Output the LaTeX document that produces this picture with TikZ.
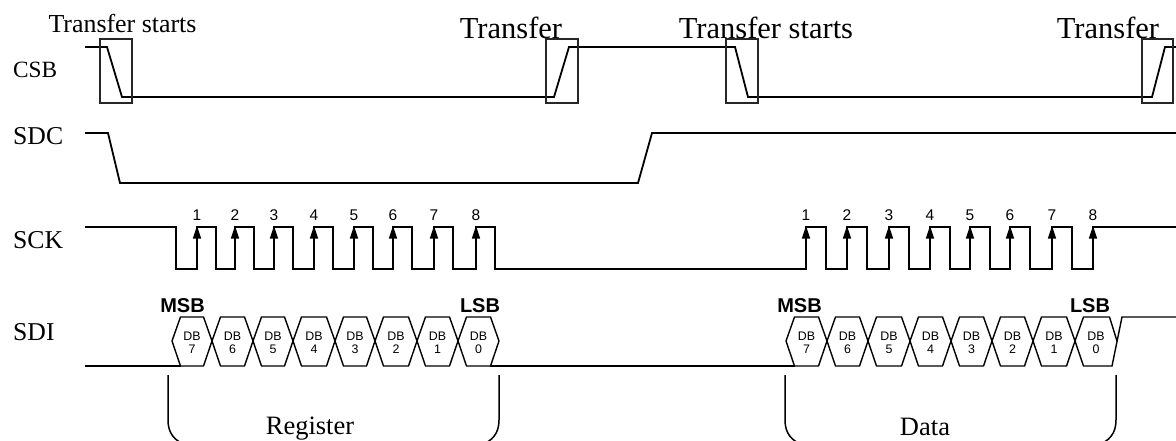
\documentclass[tikz,border=0pt]{standalone}
\usepackage{fontspec}
\setmainfont{Liberation Serif}
\newfontfamily\arialf{Liberation Sans}
\begin{document}
\begin{tikzpicture}[x=1pt,y=-1pt,
  wave/.style={line width=1.8pt, line join=miter, line cap=butt},
  hexw/.style={line width=1.4pt, line join=miter},
  boxw/.style={line width=1.3pt, draw=black!85},
  brk/.style={line width=1.5pt},
  siglabel/.style={anchor=base west, inner sep=0pt, font=\fontsize{25.7}{30}\selectfont},
  bigtxt/.style={anchor=base, inner sep=0pt, font=\fontsize{30.5}{36}\selectfont},
  smalltxt/.style={anchor=base, inner sep=0pt, font=\fontsize{25.9}{30}\selectfont},
  brtxt/.style={anchor=base, inner sep=0pt, font=\fontsize{26.5}{30}\selectfont},
  num/.style={anchor=base, inner sep=0pt, font=\arialf\fontsize{15.5}{17}\selectfont},
  dbt/.style={anchor=base, inner sep=0pt, font=\arialf\fontsize{12.4}{14}\selectfont},
  msb/.style={anchor=base, inner sep=0pt, font=\arialf\bfseries\fontsize{20}{22}\selectfont}]
\path[use as bounding box] (0,0) rectangle (1176,441);
\clip (0,0) rectangle (1176,441);

% signal labels
\node[siglabel, font=\fontsize{23.3}{28}\selectfont] (lcsb) at (13,78) {CSB};
\node[siglabel] (lsdc) at (13,145) {SDC};
\node[siglabel] (lsck) at (13,248) {SCK};
\node[siglabel] (lsdi) at (13,340) {SDI};

% transfer texts
\node[smalltxt] (t1) at (122.5,33) {Transfer starts};
\node[bigtxt] (t2) at (511,39) {Transfer};
\node[bigtxt] (t3) at (766,39) {Transfer starts};
\node[bigtxt] (t4) at (1108,39) {Transfer};

% CSB
\draw[wave] (85,47) -- (107,47) -- (122,97) -- (554,97) -- (569,47) -- (735,47) -- (748,97) -- (1152,97) -- (1165,47) -- (1176,47);
\draw[boxw] (100,39) rectangle (132,103);
\draw[boxw] (546,39) rectangle (578,103);
\draw[boxw] (726,39) rectangle (758,103);
\draw[boxw] (1142,39) rectangle (1173,103);

% SDC
\draw[wave] (85,133) -- (108,133) -- (120,183) -- (638,183) -- (652,133) -- (1176,133);

% SCK
\draw[wave] (85,227) -- (176,227) -- (176,269)
  foreach \a in {197,235,274,314,354,393,434,476}{ -- (\a,269) -- (\a,227) -- (\a+19,227) -- (\a+19,269) }
  foreach \a in {806,847,889,930,970,1010,1052}{ -- (\a,269) -- (\a,227) -- (\a+20,227) -- (\a+20,269) }
  -- (1093,269) -- (1093,227) -- (1176,227);
\foreach \a [count=\i] in {197,235,274,314,354,393,434,476}{
  \fill (\a,226) -- ++(-4.2,12.5) -- ++(8.4,0) -- cycle;
  \node[num] (na\i) at (\a,221) {\i};
}
\foreach \a [count=\i] in {806,847,889,930,970,1010,1052,1093}{
  \fill (\a,226) -- ++(-4.2,12.5) -- ++(8.4,0) -- cycle;
  \node[num] (nb\i) at (\a,221) {\i};
}

% SDI
\draw[wave] (85,366) -- (181,366);
\draw[wave] (490,366) -- (795,366);
\foreach \l/\r/\d in {172/212/7,212/253/6,253/293/5,293/335/4,335/375/3,375/417/2,417/458/1,458/499/0}{
  \draw[hexw] (\l,341) -- (\l+8.5,317) -- (\r-8.5,317) -- (\r,341) -- (\r-8.5,366) -- (\l+8.5,366) -- cycle;
  \node[dbt] (da\d) at ({(\l+\r)/2},340) {DB};
  \node[dbt] (ea\d) at ({(\l+\r)/2},353) {\d};
}
\foreach \l/\r/\d in {786/827/7,827/868/6,868/910/5,910/951/4,951/992/3,992/1033/2,1033/1075/1}{
  \draw[hexw] (\l,341) -- (\l+8.5,317) -- (\r-8.5,317) -- (\r,341) -- (\r-8.5,366) -- (\l+8.5,366) -- cycle;
  \node[dbt] (db\d) at ({(\l+\r)/2},340) {DB};
  \node[dbt] (eb\d) at ({(\l+\r)/2},353) {\d};
}
\draw[hexw] (1117,341) -- (1109.5,317) -- (1083.5,317) -- (1075,341) -- (1083.5,366) -- (1112,366) -- (1122,317) -- (1176,317);
\node[dbt] (db0) at (1096,340) {DB};
\node[dbt] (eb0) at (1096,353) {0};

\node[msb] (msb1) at (182.5,312) {MSB};
\node[msb] (lsb1) at (480,312) {LSB};
\node[msb] (msb2) at (799.5,312) {MSB};
\node[msb] (lsb2) at (1090,312) {LSB};

% brackets
\draw[brk] (168,375) -- (168,420) .. controls (168,433) and (174,441) .. (188,446);
\draw[brk] (499,375) -- (499,420) .. controls (499,433) and (493,441) .. (479,446);
\draw[brk] (785,375) -- (785,420) .. controls (785,433) and (791,441) .. (805,446);
\draw[brk] (1116,375) -- (1116,420) .. controls (1116,433) and (1110,441) .. (1096,446);
\node[brtxt] (reg) at (310,434) {Register};
\node[brtxt] (dat) at (925,435) {Data};
\end{tikzpicture}
\end{document}
